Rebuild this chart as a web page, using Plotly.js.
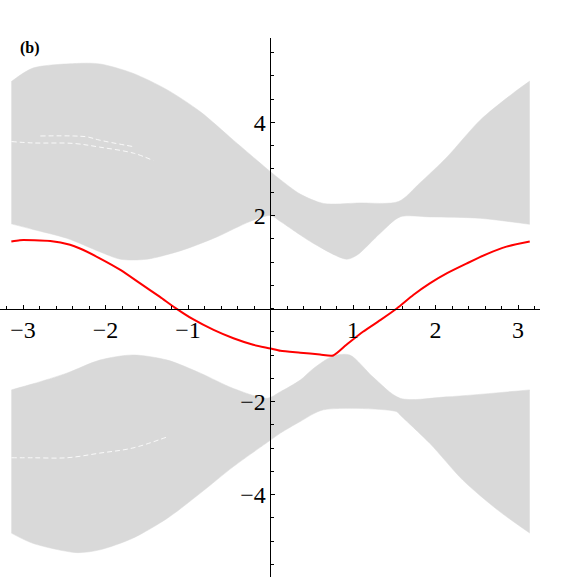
<!DOCTYPE html>
<html>
<head>
<meta charset="utf-8">
<script src="https://cdn.plot.ly/plotly-3.0.1.min.js"></script>
<style>
  html, body { margin: 0; padding: 0; background: #fff; }
  #plot { width: 576px; height: 579px; }
</style>
</head>
<body>
<div id="plot"></div>
<script>
const PI = Math.PI;

// bulk band (upper) - edges
const upTopX = [-PI, -2.88, -2.35, -2.07, -1.67, -1.25, -0.85, -0.45, 0, 0.12, 0.36, 0.64, 1.08, 1.55, 1.81, 2.14, 2.54, 2.94, PI];
const upTopY = [4.88, 5.17, 5.27, 5.26, 5.06, 4.70, 4.23, 3.62, 2.94, 2.77, 2.46, 2.26, 2.27, 2.30, 2.70, 3.26, 4.05, 4.63, 4.89];
const upBotX = [-PI, -2.88, -2.47, -2.07, -1.82, -1.50, -1.06, -0.65, -0.25, 0, 0.12, 0.52, 0.92, 1.05, 1.33, 1.57, 1.93, 2.54, PI];
const upBotY = [1.82, 1.70, 1.51, 1.22, 1.06, 1.06, 1.26, 1.54, 1.87, 2.0, 1.87, 1.40, 1.06, 1.15, 1.62, 1.97, 1.97, 1.94, 1.81];

// bulk band (lower)
const loTopX = [-PI, -2.88, -2.47, -2.07, -1.67, -1.25, -0.85, -0.45, -0.04, 0.12, 0.36, 0.52, 0.76, 0.96, 1.24, 1.57, 2.14, PI];
const loTopY = [-1.75, -1.62, -1.39, -1.11, -1.00, -1.11, -1.39, -1.72, -1.93, -1.79, -1.54, -1.29, -1.02, -1.00, -1.47, -1.93, -1.90, -1.75];
const loBotX = [-PI, -2.88, -2.35, -2.07, -1.67, -1.25, -0.85, -0.45, 0, 0.12, 0.36, 0.64, 1.53, 1.57, 1.93, 2.33, 2.75, PI];
const loBotY = [-4.83, -5.05, -5.25, -5.19, -4.94, -4.51, -3.97, -3.40, -2.83, -2.68, -2.43, -2.18, -2.22, -2.29, -2.90, -3.69, -4.33, -4.83];

// thin gaps inside the bands
const gapAX = [-2.79, -2.39, -2.22, -2.07, -1.66];
const gapAY = [3.71, 3.71, 3.69, 3.62, 3.48];
const gapBX = [-3.14, -2.88, -2.39, -2.07, -1.66, -1.42];
const gapBY = [3.59, 3.56, 3.55, 3.47, 3.34, 3.18];
const gapCX = [-3.14, -2.88, -2.47, -2.07, -1.67, -1.25];
const gapCY = [-3.21, -3.21, -3.21, -3.11, -3.00, -2.76];

// edge state
const edgeX = [-PI, -3.04, -2.67, -2.43, -2.31, -2.07, -1.82, -1.58, -1.34, -1.16, -0.94, -0.69, -0.45, -0.21, 0, 0.12, 0.36, 0.60, 0.76,
               0.92, 1.12, 1.33, 1.53, 1.73, 1.93, 2.14, 2.38, 2.62, 2.86, PI];
const edgeY = [1.44, 1.47, 1.45, 1.37, 1.29, 1.08, 0.83, 0.54, 0.25, 0.02, -0.23, -0.46, -0.64, -0.78, -0.86, -0.91, -0.95, -0.99, -1.01,
               -0.78, -0.50, -0.25, 0.0, 0.29, 0.54, 0.76, 0.97, 1.17, 1.33, 1.44];

const xTicks = [-3, -2, -1, 1, 2, 3];
const yTicks = [-4, -2, 2, 4];

const grey = '#d9d9d9';
const serif = 'Liberation Serif';

// lower edge first, then upper edge filled down to it
function edge(x, y, fill) {
    return {
        x: x, y: y, mode: 'lines', fill: fill, fillcolor: grey,
        line: { color: grey, width: 0.5, shape: 'spline', smoothing: 0.8 },
        hoverinfo: 'skip'
    };
}

function gap(x, y) {
    return {
        x: x, y: y, mode: 'lines', opacity: 0.85,
        line: { color: '#ffffff', width: 1, shape: 'spline', dash: '5px,3px' },
        hoverinfo: 'skip'
    };
}

const data = [
    edge(upBotX, upBotY, 'none'),
    edge(upTopX, upTopY, 'tonexty'),
    edge(loBotX, loBotY, 'none'),
    edge(loTopX, loTopY, 'tonexty'),
    gap(gapAX, gapAY),
    gap(gapBX, gapBY),
    gap(gapCX, gapCY),
    {
        x: edgeX,
        y: edgeY,
        mode: 'lines',
        line: { color: '#ff0000', width: 2, shape: 'spline', smoothing: 0.6 },
        hoverinfo: 'skip'
    }
];

const tickFont = { family: serif, size: 24, color: '#000' };

const layout = {
    width: 576,
    height: 579,
    margin: { l: 0, r: 36, t: 38, b: 2 },
    font: { family: serif, color: '#000' },
    showlegend: false,
    paper_bgcolor: '#fff',
    plot_bgcolor: '#fff',
    xaxis: {
        range: [-3.279, 3.266],
        anchor: 'free',
        position: 0.4981,
        showgrid: false,
        zeroline: false,
        showline: true,
        linecolor: '#000',
        linewidth: 1,
        tickmode: 'array',
        tickvals: xTicks,
        ticks: 'inside',
        ticklen: 4,
        tickcolor: '#000',
        tickfont: tickFont,
        minor: { dtick: 0.2, tick0: 0, ticks: 'inside', ticklen: 3, tickcolor: '#000' }
    },
    yaxis: {
        range: [-5.774, 5.817],
        anchor: 'free',
        position: 0.5009,
        showgrid: false,
        zeroline: false,
        showline: true,
        linecolor: '#000',
        linewidth: 1,
        tickmode: 'array',
        tickvals: yTicks,
        ticks: 'inside',
        ticklen: 4,
        tickcolor: '#000',
        tickfont: tickFont,
        minor: { dtick: 0.5, tick0: 0, ticks: 'inside', ticklen: 3, tickcolor: '#000' }
    },
    annotations: [
        { x: -2.92, y: 5.60, xref: 'x', yref: 'y', text: '<b>(b)</b>', showarrow: false,
          font: { family: serif, size: 16, color: '#000' } },
        { x: -0.01, y: 6.20, xref: 'x', yref: 'y', text: 'ϵ', showarrow: false,
          font: { family: 'DejaVu Sans', size: 17, color: '#000' } },
        { x: 3.55, y: 0.10, xref: 'x', yref: 'y', text: '<i>k</i><sub><i>y</i></sub>', showarrow: false,
          font: { family: serif, size: 24, color: '#000' } }
    ]
};

Plotly.newPlot('plot', data, layout, { displayModeBar: false, staticPlot: true });
</script>
</body>
</html>
